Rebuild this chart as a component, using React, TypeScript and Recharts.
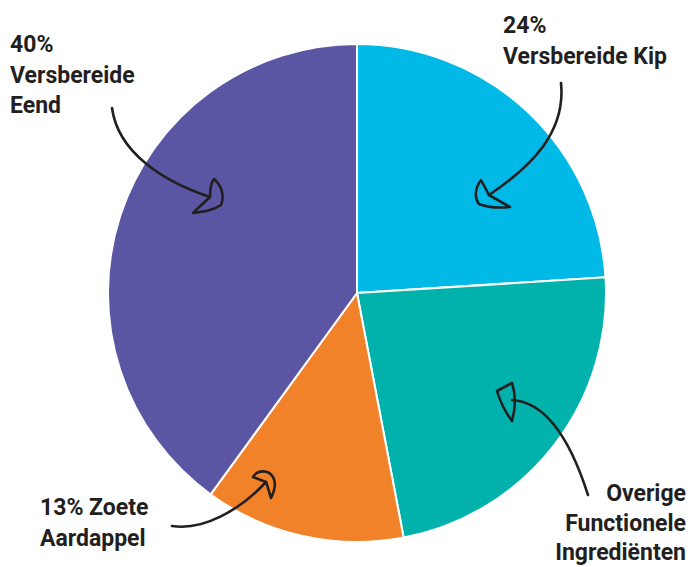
import { PieChart, Pie, Cell } from "recharts";

const names = [
  "Versbereide Kip",
  "Overige Functionele Ingrediënten",
  "Zoete Aardappel",
  "Versbereide Eend",
];
const shares = [24, 23, 13, 40];
const colors = ["#00B9E7", "#00B2AB", "#F2822A", "#5A56A4"];

// label lines per slice (same order as names)
const labelLines = [
  ["24%", "Versbereide Kip"],
  ["Overige", "Functionele", "Ingrediënten"],
  ["13% Zoete", "Aardappel"],
  ["40%", "Versbereide", "Eend"],
];

const data = names.map((name, i) => ({ name, value: shares[i] }));

// annotation layout, written relative to a pie centred at (357, 293)
const annot: any[] = [
  {
    x: 503, y: 33, gap: 30.5, anchor: "start",
    line: "M561,83 C566,132 532,166 489,195",
    head: "M489,195 L481,180 C475,188 474,198 479,204 C489,208 500,208 510,207 C503,203 496,199 489,195",
  },
  {
    x: 686, y: 501, gap: 29.5, anchor: "end",
    line: "M588,495 C572,445 548,402 512,400",
    head: "M512,383 L497,391 C500,401 506,413 512,421 C515,410 516,395 512,383 Z",
  },
  {
    x: 40, y: 515, gap: 30.5, anchor: "start",
    line: "M172,526 C203,531 240,510 266,482",
    head: "M266,482 L253,477 C257,470 268,469 273,477 C277,484 274,492 271,498 C269,492 268,487 266,482",
  },
  {
    x: 10, y: 52, gap: 30.5, anchor: "start",
    line: "M112,108 C118,152 162,181 210,197",
    head: "M210,197 C210,189 211,183 214,179 C221,185 225,195 221,205 C212,211 202,212 193,213 C199,207 205,202 210,197",
  },
];

function shift(d: string, dx: number, dy: number) {
  return d.replace(/(-?\d+\.?\d*),(-?\d+\.?\d*)/g, (_m, a, b) =>
    `${+a + dx},${+b + dy}`
  );
}

function renderLabel(props: any) {
  const { cx, cy, index } = props;
  const a = annot[index];
  const dx = cx - 357;
  const dy = cy - 293;
  return (
    <g key={"lbl" + index}>
      <path d={shift(a.line, dx, dy)} fill="none" stroke="#231F20" strokeWidth={2.6} strokeLinecap="round" />
      <path d={shift(a.head, dx, dy)} fill="none" stroke="#231F20" strokeWidth={2.6} strokeLinejoin="round" />
      <text
        x={a.x + dx}
        y={a.y + dy}
        textAnchor={a.anchor}
        fill="#231F20"
        fontFamily="Roboto, sans-serif"
        fontWeight={700}
        fontSize={23}
      >
        {labelLines[index].map((t, j) => (
          <tspan key={j} x={a.x + dx} dy={j === 0 ? 0 : a.gap}>
            {t}
          </tspan>
        ))}
      </text>
    </g>
  );
}

export default function App() {
  return (
    <div style={{ position: "absolute", left: 0, top: 0, background: "#fff" }}>
      <PieChart width={691} height={567} margin={{ top: 0, right: 0, bottom: 0, left: 0 }}>
        <Pie
          data={data}
          dataKey="value"
          nameKey="name"
          cx={357}
          cy={293}
          outerRadius={249}
          startAngle={90}
          endAngle={-270}
          stroke="#fff"
          strokeWidth={2}
          label={renderLabel}
          labelLine={false}
          isAnimationActive={false}
        >
          {data.map((d, i) => (
            <Cell key={d.name} fill={colors[i]} />
          ))}
        </Pie>
      </PieChart>
    </div>
  );
}
